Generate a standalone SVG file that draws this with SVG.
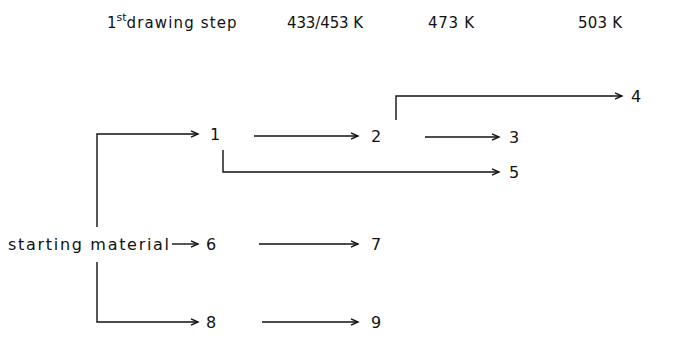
<svg xmlns="http://www.w3.org/2000/svg" width="676" height="358" viewBox="0 0 676 358">
  <style>
    text { font-family: "DejaVu Sans", "Liberation Sans", sans-serif; font-size: 16px; fill: #111; }
    .hdr { font-size: 15px; }
    .sup { font-size: 11px; }
    .ln { fill: none; stroke: #111; stroke-width: 1.4; }
  </style>
  <defs>
    <marker id="arr" markerUnits="userSpaceOnUse" markerWidth="10" markerHeight="10" refX="8" refY="4" orient="auto">
      <path d="M1,0.8 L8,4 L1,7.2" fill="none" stroke="#111" stroke-width="1.4"/>
    </marker>
  </defs>
  <rect width="676" height="358" fill="#fff"/>

  <!-- column headings -->
  <g id="headings">
    <text class="hdr" x="107" y="28">1<tspan class="sup" dy="-7">st</tspan><tspan dy="7" textLength="110" lengthAdjust="spacing">drawing step</tspan></text>
    <text class="hdr" x="287" y="28" textLength="76" lengthAdjust="spacing">433/453 K</text>
    <text class="hdr" x="428" y="28" textLength="46" lengthAdjust="spacing">473 K</text>
    <text class="hdr" x="578" y="28" textLength="44" lengthAdjust="spacing">503 K</text>
  </g>

  <!-- connectors -->
  <g id="connectors">
    <polyline class="ln" points="97,227 97,134 198,134" marker-end="url(#arr)"/>
    <line class="ln" x1="254" y1="136" x2="358" y2="136" marker-end="url(#arr)"/>
    <polyline class="ln" points="396,120 396,96 622,96" marker-end="url(#arr)"/>
    <line class="ln" x1="425" y1="137" x2="499" y2="137" marker-end="url(#arr)"/>
    <polyline class="ln" points="223,150 223,172 499,172" marker-end="url(#arr)"/>
    <line class="ln" x1="172" y1="244" x2="198" y2="244" marker-end="url(#arr)"/>
    <line class="ln" x1="259" y1="244" x2="358" y2="244" marker-end="url(#arr)"/>
    <polyline class="ln" points="97,262 97,322 198,322" marker-end="url(#arr)"/>
    <line class="ln" x1="262" y1="322" x2="358" y2="322" marker-end="url(#arr)"/>
  </g>

  <!-- nodes -->
  <g id="start"><text x="8" y="250" textLength="161" lengthAdjust="spacing">starting material</text></g>
  <g id="n1"><text x="210" y="140">1</text></g>
  <g id="n2"><text x="371" y="142">2</text></g>
  <g id="n3"><text x="509" y="143">3</text></g>
  <g id="n4"><text x="631" y="102">4</text></g>
  <g id="n5"><text x="509" y="178">5</text></g>
  <g id="n6"><text x="206" y="250">6</text></g>
  <g id="n7"><text x="371" y="250">7</text></g>
  <g id="n8"><text x="206" y="328">8</text></g>
  <g id="n9"><text x="371" y="328">9</text></g>
</svg>
